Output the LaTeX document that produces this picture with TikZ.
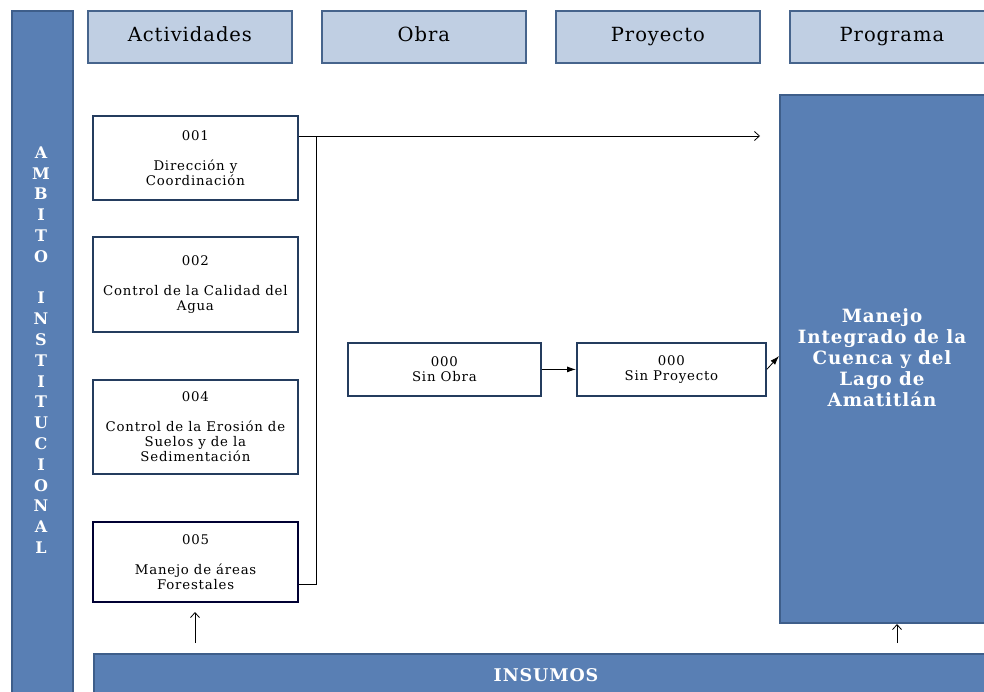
\documentclass[tikz,border=0pt]{standalone}
\usepackage{fontspec}
\setmainfont{DejaVu Serif}
\newfontfamily\spacedfont[LetterSpace=6]{DejaVu Serif}
\newfontfamily\headfont[LetterSpace=5]{DejaVu Serif}
\newfontfamily\boldspaced[LetterSpace=5]{DejaVu Serif}
\usetikzlibrary{arrows.meta}
\definecolor{darkfill}{RGB}{89,127,180}
\definecolor{darkedge}{RGB}{62,94,138}
\definecolor{lightfill}{RGB}{192,207,227}
\definecolor{lightedge}{RGB}{70,100,140}
\definecolor{boxedge}{RGB}{36,60,94}
\tikzset{
  x=1pt, y=-1pt,
  bluebar/.style={draw=darkedge, fill=darkfill, line width=2pt, inner sep=0pt},
  header/.style={draw=lightedge, fill=lightfill, line width=1.8pt, font=\headfont\fontsize{19.5}{20}\selectfont, inner sep=0pt, text height=14pt, text depth=4pt},
  actbox/.style={draw=boxedge, fill=white, line width=1.8pt, align=center, font=\spacedfont\fontsize{13.3}{15}\selectfont, inner sep=0pt},
  whitebold/.style={text=white, font=\bfseries},
  conn/.style={draw=black, line width=0.8pt},
  openarrow/.style={conn, -{Straight Barb[length=5pt,width=9pt]}},
  fillarrow/.style={conn, -{Latex[length=9pt,width=6pt]}},
}
\begin{document}
\begin{tikzpicture}
\useasboundingbox (0,0) rectangle (984,691);
% left bar
\node[bluebar, minimum width=61, minimum height=690, anchor=north west] (amb) at (11,10) {};
\node[whitebold, align=center, font=\bfseries\fontsize{16}{20.8}\selectfont, anchor=north] (ambt) at (41,143)
  {A\\M\\B\\I\\T\\O\\[20.8pt]I\\N\\S\\T\\I\\T\\U\\C\\I\\O\\N\\A\\L};
% headers
\node[header, minimum width=204, minimum height=52, anchor=north west] (h1) at (87,10) {Actividades};
\node[header, minimum width=204, minimum height=52, anchor=north west] (h2) at (321,10) {Obra};
\node[header, minimum width=204, minimum height=52, anchor=north west] (h3) at (555,10) {Proyecto};
\node[header, minimum width=204, minimum height=52, anchor=north west] (h4) at (789,10) {Programa};
% activity boxes
\node[actbox, minimum width=205, minimum height=84, anchor=north west] (a1) at (92,115) {001\\[15pt]Dirección y\\Coordinación};
\node[actbox, minimum width=205, minimum height=95, anchor=north west] (a2) at (92,236) {002\\[15pt]Control de la Calidad del\\Agua};
\node[actbox, minimum width=205, minimum height=94, anchor=north west] (a4) at (92,379) {004\\[15pt]Control de la Erosión de\\Suelos y de la\\Sedimentación};
\node[actbox, draw=black!80!blue, line width=2.2pt, minimum width=205, minimum height=80, anchor=north west] (a5) at (92,521) {005\\[15pt]Manejo de áreas\\Forestales};
% obra / proyecto
\node[actbox, minimum width=193, minimum height=53, anchor=north west] (so) at (347,342) {000\\Sin Obra};
\node[actbox, minimum width=189, minimum height=53, anchor=north west] (sp) at (576,342) {000\\Sin Proyecto};
% programa
\node[bluebar, minimum width=206, minimum height=528, anchor=north west] (prog) at (779,94) {};
\node[whitebold, align=center, font=\boldspaced\bfseries\fontsize{18.3}{21}\selectfont] (progt) at (882,358)
  {Manejo\\Integrado de la\\Cuenca y del\\Lago de\\Amatitlán};
% insumos
\node[bluebar, minimum width=892, minimum height=40, anchor=north west] (ins) at (93,653) {};
\node[whitebold, font=\boldspaced\bfseries\fontsize{17.5}{18}\selectfont] (inst) at (546,675) {INSUMOS};
% connectors
\coordinate (j1) at (316,136);
\coordinate (j2) at (316,584);
\coordinate (tip) at (760,136);
\coordinate (pin) at (779,356);
\coordinate (u1s) at (195,643);
\coordinate (u1e) at (195,612);
\coordinate (u2s) at (897,643);
\draw[conn] (a1.east |- j1) -- (j1) -- (j2) -- (a5.east |- j2);
\draw[openarrow] (j1) -- (tip);
\draw[fillarrow] (so.east) -- (sp.west);
\draw[fillarrow] (sp.east) -- (pin);
\draw[openarrow] (u1s) -- (u1e);
\draw[openarrow] (u2s) -- (prog.south -| u2s);
\end{tikzpicture}
\end{document}
